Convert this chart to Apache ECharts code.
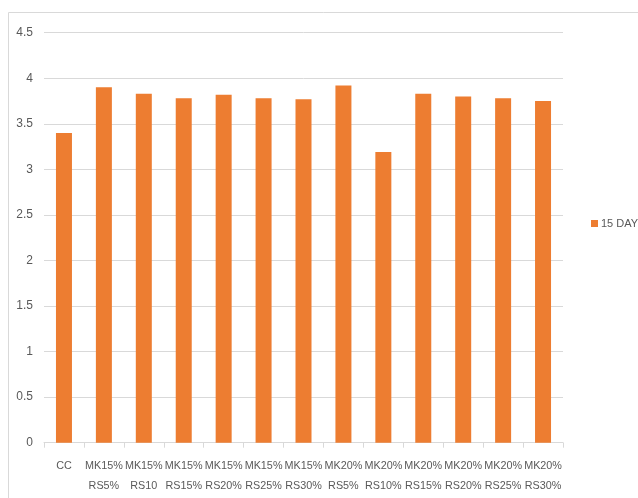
<!DOCTYPE html>
<html><head><meta charset="utf-8">
<script src="https://cdn.jsdelivr.net/npm/echarts@6/dist/echarts.min.js"></script>
<style>html,body{margin:0;padding:0;background:#fff}#c{width:638px;height:498px}</style>
</head><body><div id="c"></div>
<script>
var categories = ['CC\n', 'MK15%\nRS5%', 'MK15%\nRS10', 'MK15%\nRS15%', 'MK15%\nRS20%', 'MK15%\nRS25%', 'MK15%\nRS30%', 'MK20%\nRS5%', 'MK20%\nRS10%', 'MK20%\nRS15%', 'MK20%\nRS20%', 'MK20%\nRS25%', 'MK20%\nRS30%'];
var day15 = [3.40, 3.90, 3.83, 3.78, 3.82, 3.78, 3.77, 3.92, 3.19, 3.83, 3.80, 3.78, 3.75];
var seriesName = '15 DAY';
var font = '"Liberation Sans", Arial, sans-serif';
var chart = echarts.init(document.getElementById('c'));
chart.setOption({
  animation: false,
  graphic: [{type: 'rect', shape: {x: 8.5, y: 12.5, width: 700, height: 600}, style: {fill: 'none', stroke: '#d9d9d9', lineWidth: 1}, z: -1}],
  grid: {left: 44, right: 75, top: 32.7, bottom: 55.3},
  legend: {
    data: [seriesName], orient: 'vertical', left: 586, top: 213,
    itemWidth: 7, itemHeight: 7, itemGap: 4, icon: 'rect',
    textStyle: {color: '#595959', fontSize: 11, fontFamily: font, padding: [0, 0, 0, -2]}
  },
  xAxis: {
    type: 'category', data: categories,
    axisLine: {lineStyle: {color: '#d9d9d9'}},
    axisTick: {show: true, length: 5, lineStyle: {color: '#d9d9d9'}},
    axisLabel: {color: '#595959', fontSize: 10.8, fontFamily: font, lineHeight: 20, margin: 13, interval: 0}
  },
  yAxis: {
    type: 'value', min: 0, max: 4.5, interval: 0.5,
    axisLine: {show: false}, axisTick: {show: false},
    splitLine: {lineStyle: {color: '#d9d9d9'}},
    axisLabel: {color: '#595959', fontSize: 12, fontFamily: font, margin: 11}
  },
  series: [{
    name: seriesName, type: 'bar', data: day15, barWidth: 16,
    itemStyle: {color: '#ED7D31'}
  }]
});
</script></body></html>
